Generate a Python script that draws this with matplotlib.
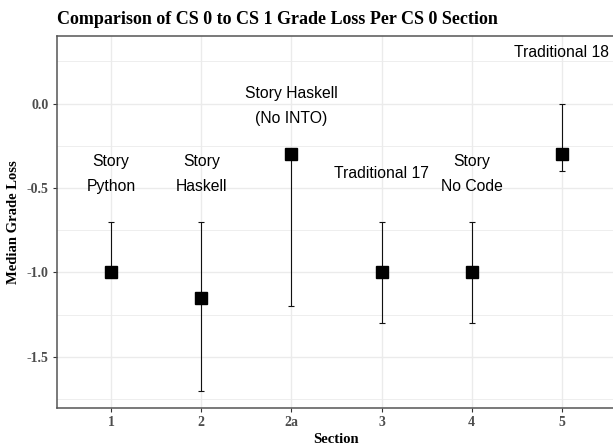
import numpy as np
import matplotlib.pyplot as plt

# sections along the x axis (discrete)
sections = ['1', '2', '2a', '3', '4', '5']

# median grade loss and the error range per section
medians = [-1.0, -1.15, -0.3, -1.0, -1.0, -0.3]
err_top = [-0.7, -0.7, -0.3, -0.7, -0.7, 0.0]
err_bottom = [-1.0, -1.7, -1.2, -1.3, -1.3, -0.4]

# course labels above each section
labels = ['Story\nPython', 'Story\nHaskell', 'Story Haskell\n(No INTO)',
          'Traditional 17', 'Story\nNo Code', 'Traditional 18']
label_y = [-0.415, -0.415, -0.015, -0.415, -0.415, 0.3]

serif = 'Liberation Serif'
sans = 'Liberation Sans'

fig = plt.figure(figsize=(6.13, 4.47), dpi=100)
# panel runs just past the right edge of the figure
ax = fig.add_axes([57/613, 1 - 407.5/447, 559/613, 371.5/447])

x = np.arange(len(sections))
med = np.array(medians)
top = np.array(err_top)
bot = np.array(err_bottom)

ax.errorbar(x, med, yerr=[med - bot, top - med], fmt='none',
            ecolor='#111111', elinewidth=0.8, capsize=2.2, capthick=0.8, zorder=3)
ax.plot(x, med, 's', color='black', markersize=9.2, zorder=4)

for xi, yi, lab in zip(x, label_y, labels):
    ax.text(xi, yi, lab, ha='center', va='center', fontsize=11.3,
            family=sans, linespacing=1.85, color='black', zorder=5)

ax.set_xlim(-0.6, 5.6)
ax.set_ylim(-1.8, 0.4)
ax.set_xticks(x)
ax.set_xticklabels(sections)
ax.set_yticks([-1.5, -1.0, -0.5, 0.0])
ax.set_yticklabels(['-1.5', '-1.0', '-0.5', '0.0'])
ax.set_yticks([-1.75, -1.25, -0.75, -0.25, 0.25], minor=True)

ax.grid(True, which='major', color='#EBEBEB', linewidth=1.0)
ax.grid(True, which='minor', axis='y', color='#EBEBEB', linewidth=0.6)
ax.set_axisbelow(True)

for s in ax.spines.values():
    s.set_color('#555555')
    s.set_linewidth(1.1)

ax.tick_params(axis='both', which='major', length=3, width=0.8, color='#333333',
               labelsize=10, labelcolor='#4D4D4D', pad=3)
ax.tick_params(axis='y', which='minor', length=0)
for t in ax.get_xticklabels() + ax.get_yticklabels():
    t.set_fontfamily(serif)
    t.set_fontweight('bold')

ax.set_xlabel('Section', fontsize=10.5, family=serif, fontweight='bold', labelpad=3)
ax.set_ylabel('Median Grade Loss', fontsize=10.5, family=serif, fontweight='bold', labelpad=5)
ax.set_title('Comparison of CS 0 to CS 1 Grade Loss Per CS 0 Section', loc='left',
             fontsize=13, family=serif, fontweight='bold', pad=9)

fig.savefig('out.png', dpi=100)
